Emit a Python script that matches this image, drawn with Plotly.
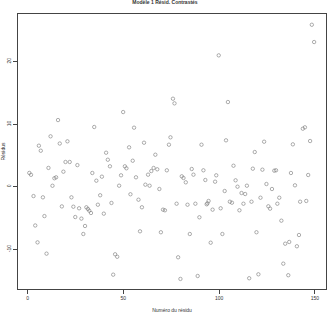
import plotly.graph_objects as go

obs = [0.9, 1.8, 3.1, 4.0, 5.2, 5.9, 6.9, 8.0, 8.8, 9.9, 10.9, 12.0, 13.0, 14.0, 14.9, 15.9, 16.8, 17.9, 18.7, 19.8,
       20.8, 22.0, 22.9, 23.9, 24.9, 26.0, 26.9, 28.1,
       29.1, 30.0, 30.7, 31.5, 32.2, 33.1, 33.8, 34.8, 35.9, 36.7, 37.9, 38.8, 39.8, 41.0, 41.9, 43.0, 43.8, 44.7,
       45.7, 46.8, 47.8, 48.8, 49.9, 50.8, 51.6, 53.0, 53.7, 54.9, 55.6, 56.6, 57.9, 58.7, 59.7,
       60.8, 61.5, 62.9, 63.7, 64.6, 65.8, 66.7, 67.7, 68.8, 69.6, 70.7, 71.7, 72.7, 73.8, 74.6, 75.9, 76.7, 77.8,
       78.6, 79.8, 80.5, 81.4, 82.6, 83.5, 84.7, 85.7, 86.6, 87.6, 88.8, 89.7, 90.8, 91.8,
       92.8, 93.5, 93.9, 94.5, 95.6, 96.6, 97.9, 98.5, 99.8, 100.8, 101.7, 102.9, 103.6, 104.6, 105.6, 106.7, 107.5,
       108.6, 109.6, 110.6, 111.7, 112.7, 113.6, 114.5, 115.7, 116.9, 117.6, 118.6, 119.5, 120.5, 121.6, 122.6,
       123.5, 124.7,
       125.7, 126.6, 127.6, 128.8, 129.7, 130.4, 131.4, 132.5, 133.5, 134.5, 136.1, 136.6, 137.5, 138.5, 139.6,
       140.6, 141.7, 142.3, 143.7, 144.8, 145.5, 146.5, 147.5, 148.4, 149.6]

residus = [2.2, 1.9, -1.5, -6.2, -8.9, 6.55, 5.75, -1.7, -4.7, -10.7, 3.0, 8.05, 0.15, 1.35, 1.5, 10.65, 6.9, -3.15,
           2.4, 3.95, 7.25, 3.95, -1.7, -3.2, -4.85, 3.45, -3.45, -5.1,
           -7.56, -6.28, -3.29, -3.56, -3.83, -4.2, 2.19, 9.54, 0.96, -2.88, -1.37, 1.6, -4.31, 5.43, 4.31, 3.26,
           -2.6, -14.06, -10.8, -11.2, 0.16, 1.82, 11.93, 3.26, 2.94, 6.29, -1.21, 4.15, 9.43, 1.5, -2.08, -7.13,
           -3.29,
           7.03, 0.32, 1.92, 0.16, 2.5, 2.99, 5.11, 2.78, -0.37, -7.28, -3.67, -3.77, 2.62, 6.71, 7.89, 14.06, 13.32,
           -2.72, -11.28, -14.74, 1.66, 1.39, 0.7, -2.88, -7.56, 2.83, 1.92, -2.72, -14.27, -4.89, 6.71, 2.62,
           1.07, -2.81, -2.66, -2.28, -8.95, -3.67, 0.8, 1.82, 20.99, -3.45, -7.56, -0.69, 7.41, 13.53, -2.4, -2.56,
           3.35, 1.02, 0.0, -3.77, -1.01, -2.72, -1.17, 0.16, -14.63, -2.4, 2.88, 5.54, -7.28, -14.0, -1.76, 2.72,
           7.19, 0.43,
           -3.13, -3.51, -0.37, 2.56, 2.62, -2.72, -1.76, -5.43, -12.3, -9.11, -14.15, -8.83, 2.19, 6.77, 0.22,
           -9.52, -7.72, -2.4, 9.27, 9.49, -2.28, 1.87, 7.3, 25.88, 23.12]

x_ticks = [0, 50, 100, 150]
y_ticks = [-10, 0, 10, 20]

title_text = "Modèle 1 Résid. Contrastés"
x_title = "Numéro du résidu"
y_title = "Résidus"

fig = go.Figure()
fig.add_trace(go.Scatter(
    x=obs, y=residus, mode="markers",
    marker=dict(symbol="circle-open", size=3.4, color="#777777", line=dict(width=0.6, color="#777777")),
    showlegend=False, hoverinfo="x+y"))

font_fam = "Liberation Sans, Arial, sans-serif"
fig.update_layout(
    width=330, height=322,
    margin=dict(l=18, r=4, t=14, b=33),
    paper_bgcolor="white", plot_bgcolor="white",
    font=dict(family=font_fam, size=5, color="#333"),
    title=dict(text="<b>" + title_text + "</b>", x=0.5, xanchor="center", y=0.998, yanchor="top",
               xref="container", yref="container", font=dict(size=5, color="#333")),
)
fig.update_xaxes(
    range=[-5.0, 155.8], tickvals=x_ticks, ticktext=[str(v) for v in x_ticks],
    showgrid=False, zeroline=False, showline=True, mirror=True, linecolor="#444", linewidth=1,
    ticks="outside", ticklen=4, tickcolor="#444", tickwidth=1, tickfont=dict(size=5),
    title=dict(text=x_title, font=dict(size=5), standoff=8), automargin=False,
)
fig.update_yaxes(
    range=[-16.35, 27.6], tickvals=y_ticks, ticktext=[str(v) for v in y_ticks], tickangle=-90,
    showgrid=False, zeroline=False, showline=True, mirror=True, linecolor="#444", linewidth=1,
    ticks="outside", ticklen=4, tickcolor="#444", tickwidth=1, tickfont=dict(size=5),
    title=dict(text=y_title, font=dict(size=5), standoff=3), automargin=False,
)

fig.write_html("out.html")
